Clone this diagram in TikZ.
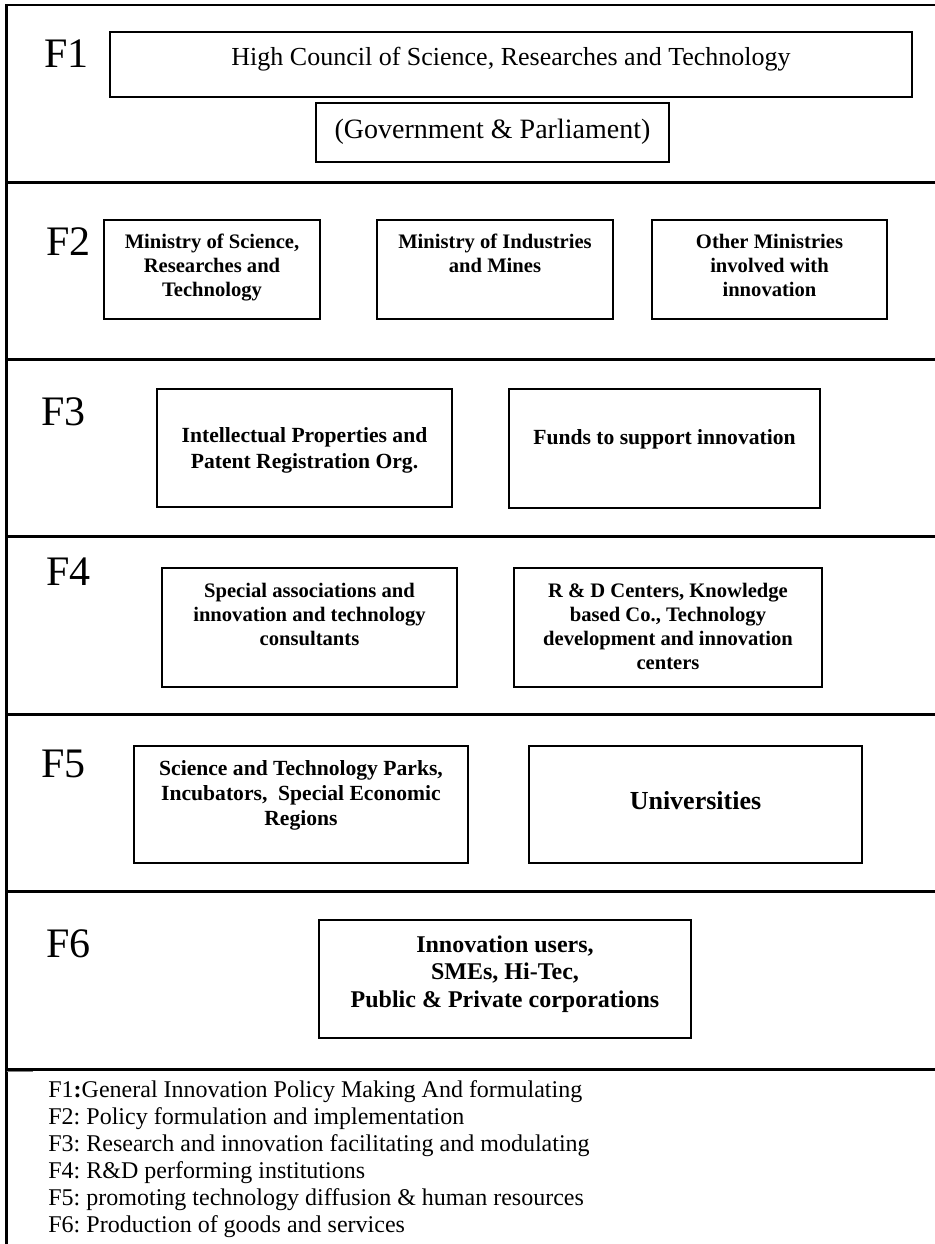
\documentclass[tikz,border=0pt]{standalone}
\usepackage{fontspec}
\setmainfont{Liberation Serif}
\usetikzlibrary{positioning}
\frenchspacing

\begin{document}
\begin{tikzpicture}[x=0.5pt, y=-0.5pt,
    box/.style={draw, line width=0.8pt, inner sep=0pt},
    flabel/.style={anchor=base west, inner sep=0pt, font=\fontsize{21}{25}\selectfont},
    boxtext/.style={anchor=base, inner sep=0pt, align=center},
    legend/.style={anchor=base west, inner sep=0pt, font=\fontsize{12}{14}\selectfont},
    sep/.style={line width=1.5pt}]
				\useasboundingbox (0,0) rectangle (935,1244);
				
				% frame and level separators
				\draw[line width=1.4pt] (935,5) -- (6.5,5) -- (6.5,1244);
				\draw[sep] (6.5,182) -- (935,182);
				\draw[sep] (6.5,359) -- (935,359);
				\draw[sep] (6.5,536) -- (935,536);
				\draw[sep] (6.5,714) -- (935,714);
				\draw[sep] (6.5,891) -- (935,891);
				\draw[sep] (6.5,1069) -- (935,1069);
				\draw[gray, line width=0.8pt] (6.5,1071.5) -- (33,1071.5);
				
				% level labels
				\node[flabel] (F1) at (44,67) {F1};
				\node[flabel] (F2) at (46,255) {F2};
				\node[flabel] (F3) at (41,425) {F3};
				\node[flabel] (F4) at (46,585) {F4};
				\node[flabel] (F5) at (41,777) {F5};
				\node[flabel] (F6) at (46,957) {F6};
				
				% F1
				\node[box, minimum width=401pt, minimum height=32.5pt] (H1) at (511,64.5) {};
				\node[boxtext, font=\fontsize{13}{15}\selectfont] (H1t) at (511,65) {High Council of Science, Researches and Technology};
				\node[box, minimum width=176.5pt, minimum height=29.5pt] (G1) at (492.5,132.5) {};
				\node[boxtext, font=\fontsize{14}{16}\selectfont] (G1t) at (492.5,138) {(Government \& Parliament)};
				
				% F2
				\node[box, minimum width=108pt, minimum height=49.5pt] (M2) at (212,269.5) {};
				\node[box, minimum width=118pt, minimum height=49.5pt] (I2) at (495,269.5) {};
				\node[box, minimum width=117.5pt, minimum height=49.5pt] (O2) at (769.5,269.5) {};
				\node[boxtext, font=\bfseries\fontsize{10.3}{12}\selectfont] (M2t) at (212,296) {Ministry of Science,\\Researches and\\Technology};
				\node[boxtext, font=\bfseries\fontsize{10.3}{12}\selectfont] (I2t) at (495,272) {Ministry of Industries\\and Mines};
				\node[boxtext, font=\bfseries\fontsize{10.3}{12}\selectfont] (O2t) at (769.5,296) {Other Ministries\\involved with\\innovation};
				
				% F3
				\node[box, minimum width=147.5pt, minimum height=59pt] (P3) at (304.5,448) {};
				\node[box, minimum width=155.5pt, minimum height=59.5pt] (U3) at (664.5,448.5) {};
				\node[boxtext, font=\bfseries\fontsize{10.8}{12.75}\selectfont] (P3t) at (304.5,468) {Intellectual Properties and\\Patent Registration Org.};
				\node[boxtext, font=\bfseries\fontsize{10.8}{12.75}\selectfont] (U3t) at (664.5,444) {Funds to support innovation};
				
				% F4
				\node[box, minimum width=147.5pt, minimum height=59.5pt] (A4) at (309.5,627.5) {};
				\node[box, minimum width=154pt, minimum height=59.5pt] (R4) at (668,627.5) {};
				\node[boxtext, font=\bfseries\fontsize{10.3}{12}\selectfont] (A4t) at (309.5,645) {Special associations and\\innovation and technology\\consultants};
				\node[boxtext, font=\bfseries\fontsize{10.3}{12}\selectfont] (R4t) at (668,669) {R \& D Centers, Knowledge\\based Co., Technology\\development and innovation\\centers};
				
				% F5
				\node[box, minimum width=167pt, minimum height=58.5pt] (S5) at (301,804.5) {};
				\node[box, minimum width=166.5pt, minimum height=58.5pt] (U5) at (695.5,804.5) {};
				\node[boxtext, font=\bfseries\fontsize{10.8}{12.5}\selectfont] (S5t) at (301,825) {Science and Technology Parks,\\Incubators,\ \ Special Economic\\Regions};
				\node[boxtext, font=\bfseries\fontsize{13}{15}\selectfont] (U5t) at (695.5,809) {Universities};
				
				% F6
				\node[box, minimum width=186pt, minimum height=59pt] (I6) at (505,979) {};
				\node[boxtext, font=\bfseries\fontsize{12}{13.75}\selectfont] (I6t) at (505,1007) {Innovation users,\\SMEs, Hi-Tec,\\Public \& Private corporations};
				
				% legend
				\node[legend] (D1) at (48,1097) {F1\textbf{:}General Innovation Policy Making And formulating};
				\node[legend] (D2) at (48,1124.5) {F2: Policy formulation and implementation};
				\node[legend] (D3) at (48,1151.5) {F3: Research and innovation facilitating and modulating};
				\node[legend] (D4) at (48,1178.5) {F4: R\&D performing institutions};
				\node[legend] (D5) at (48,1205.5) {F5: promoting technology diffusion \& human resources};
				\node[legend] (D6) at (48,1232.5) {F6: Production of goods and services};
			\end{tikzpicture}
\end{document}
